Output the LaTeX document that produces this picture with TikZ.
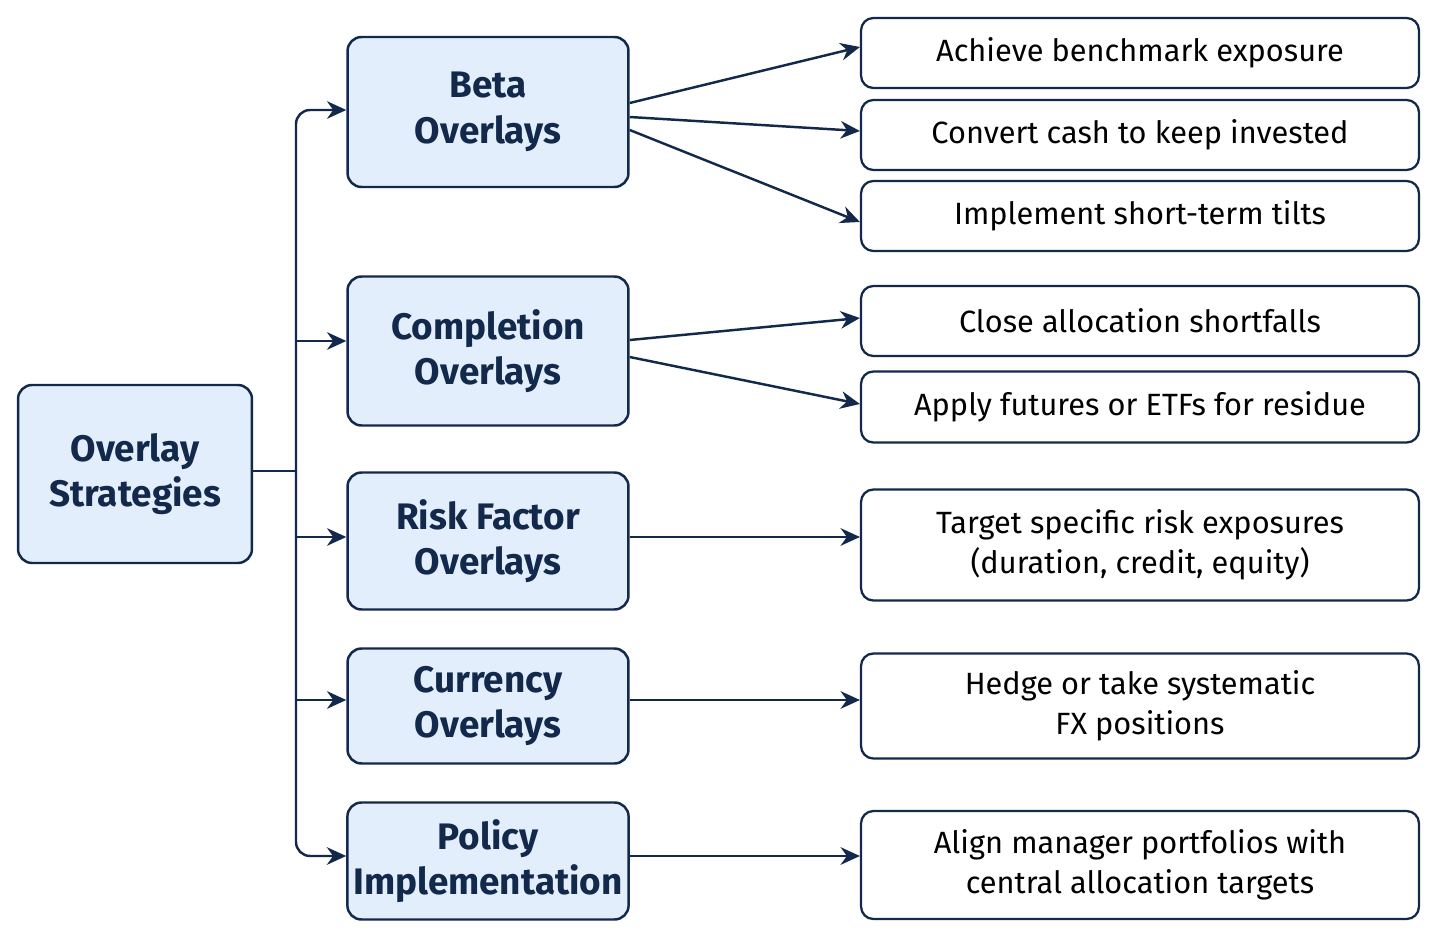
\documentclass[tikz,border=0pt]{standalone}
\usepackage{fontspec}
\setmainfont{Fira Sans}
\usetikzlibrary{arrows.meta}
\definecolor{vnavy}{HTML}{13294b}
\definecolor{vlight}{HTML}{e2eefb}
\tikzset{
  topic/.style={draw=vnavy, fill=vlight, line width=1.4pt, rounded corners=8pt,
    minimum width=5.62cm, align=center, text=vnavy, font=\fontsize{21}{26}\selectfont\bfseries},
  item/.style={draw=vnavy, fill=white, line width=1.3pt, rounded corners=7pt,
    minimum width=11.16cm, align=center, text=black, font=\fontsize{17.5}{23}\selectfont},
  link/.style={draw=vnavy, line width=1.4pt, -{Stealth[length=11pt,width=10pt]}}
}
\begin{document}
\begin{tikzpicture}[x=0.02cm, y=-0.02cm]
  \useasboundingbox (0,0) rectangle (1437,939);
  % left root
  \node[topic, minimum width=4.68cm, minimum height=3.56cm] (root) at (135,474) {Overlay\\Strategies};
  % middle column
  \node[topic, minimum height=3.0cm] (beta) at (488,112) {Beta\\Overlays};
  \node[topic, minimum height=2.98cm] (compl) at (488,351) {Completion\\Overlays};
  \node[topic, minimum height=2.74cm] (risk) at (488,541) {Risk Factor\\Overlays};
  \node[topic, minimum height=2.3cm] (curr) at (488,706) {Currency\\Overlays};
  \node[topic, minimum height=2.34cm] (policy) at (488,861) {Policy\\Implementation};
  % right column
  \node[item, minimum height=1.4cm] (bench) at (1140,53) {Achieve benchmark exposure};
  \node[item, minimum height=1.4cm] (cash) at (1140,135) {Convert cash to keep invested};
  \node[item, minimum height=1.4cm] (tilts) at (1140,216) {Implement short-term tilts};
  \node[item, minimum height=1.4cm] (short) at (1140,321) {Close allocation shortfalls};
  \node[item, minimum height=1.42cm] (resid) at (1140,407) {Apply futures or ETFs for residue};
  \node[item, minimum height=2.22cm] (expo) at (1140,545) {Target specific risk exposures\\(duration, credit, equity)};
  \node[item, minimum height=2.1cm] (fx) at (1140,706) {Hedge or take systematic\\FX positions};
  \node[item, minimum height=2.16cm] (align) at (1140,865) {Align manager portfolios with\\central allocation targets};
  % trunk
  \coordinate (trunk) at (296,471);
  \draw[draw=vnavy, line width=1.4pt] (root.east |- trunk) -- (trunk);
  \draw[link, rounded corners=8pt] (trunk) |- ([yshift=0.04cm]beta.west);
  \draw[link, rounded corners=8pt] (trunk) |- ([yshift=0.1cm]policy.west);
  \draw[link] (trunk |- 0,341) -- (compl.west |- 0,341);
  \draw[link] (trunk |- 0,537) -- (risk.west |- 0,537);
  \draw[link] (trunk |- 0,700) -- (curr.west |- 0,700);
  % branches
  \draw[link] ([yshift=0.18cm]beta.east) -- ([yshift=0.12cm]bench.west);
  \draw[link] ([yshift=-0.1cm]beta.east) -- ([yshift=0.08cm]cash.west);
  \draw[link] ([yshift=-0.36cm]beta.east) -- ([yshift=-0.12cm]tilts.west);
  \draw[link] ([yshift=0.22cm]compl.east) -- ([yshift=0.06cm]short.west);
  \draw[link] ([yshift=-0.12cm]compl.east) -- ([yshift=0.06cm]resid.west);
  \draw[link] (risk.east |- 0,537) -- (expo.west |- 0,537);
  \draw[link] (curr.east |- 0,700) -- (fx.west |- 0,700);
  \draw[link] (policy.east |- 0,856) -- (align.west |- 0,856);
\end{tikzpicture}
\end{document}
